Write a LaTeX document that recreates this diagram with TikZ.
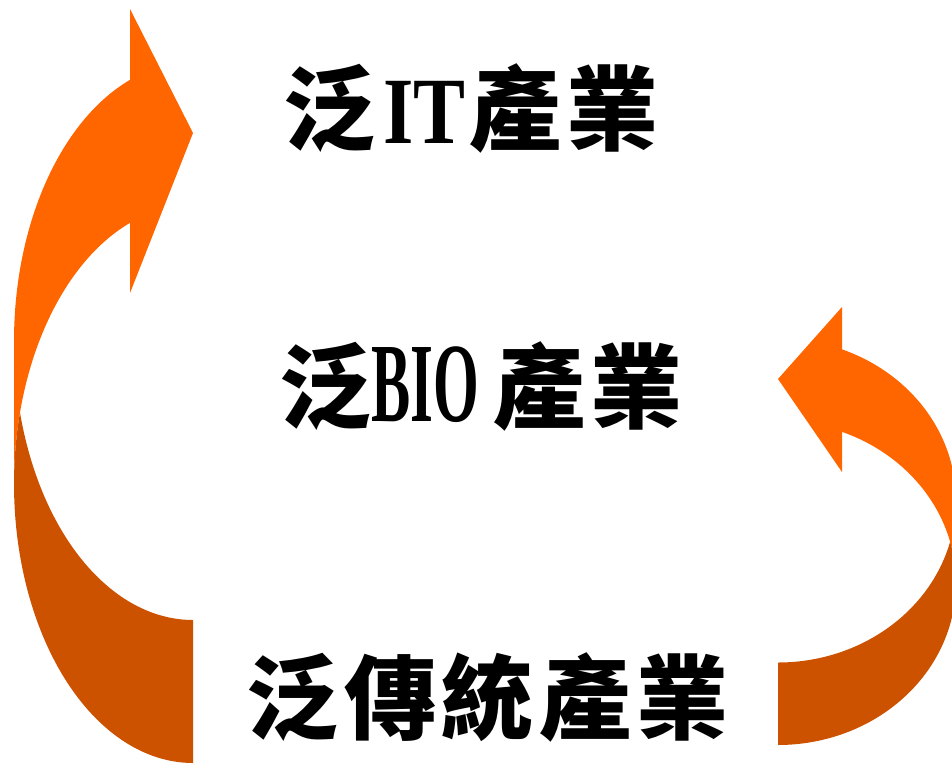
\documentclass[tikz,border=0pt]{standalone}
\usepackage{fontspec}
\newfontfamily\cjk[LetterSpace=6]{Noto Sans CJK TC}
\newfontfamily\itfont[FakeStretch=0.82]{Liberation Serif}
\newfontfamily\biofont[FakeStretch=0.52]{Liberation Serif}
\definecolor{arrowlight}{RGB}{255,102,0}
\definecolor{arrowdark}{RGB}{204,82,0}
\tikzset{
  lbl/.style={inner sep=0pt, anchor=center, text=black},
  lightband/.style={fill=arrowlight},
  darkband/.style={fill=arrowdark}
}
\begin{document}
\begin{tikzpicture}[x=1pt,y=-1pt]
\useasboundingbox (0,0) rectangle (952,763);
\fill[white] (0,0) rectangle (952,763);
\clip (0,0) rectangle (952,763);
% left curved arrow (points right, at the top)
\path[lightband] (14,341) -- (14,484)
  -- plot[domain=180:110.6, samples=60] ({193+179*cos(\x)},{484-279*sin(\x)})
  -- (130,293) -- (193,133) -- (130,9) -- (130,80)
  -- plot[domain=110.6:180, samples=60] ({193+179*cos(\x)},{341-279*sin(\x)})
  -- cycle;
\path[darkband] (193,763)
  -- plot[domain=270:165.15, samples=80] ({193+179*cos(\x)},{484-279*sin(\x)})
  -- plot[domain=194.85:270, samples=80] ({193+179*cos(\x)},{341-279*sin(\x)})
  -- cycle;
% right curved arrow (points left, at the top)
\path[lightband] (956,500.5) -- (956,583)
  -- plot[domain=180:111.07, samples=60] ({778-178*cos(\x)},{583-162*sin(\x)})
  -- (842,472) -- (778,379) -- (842,307) -- (842,349.4)
  -- plot[domain=111.07:180, samples=60] ({778-178*cos(\x)},{500.5-162*sin(\x)})
  -- cycle;
\path[darkband] (778,745)
  -- plot[domain=270:165.25, samples=80] ({778-178*cos(\x)},{583-162*sin(\x)})
  -- plot[domain=194.75:270, samples=80] ({778-178*cos(\x)},{500.5-162*sin(\x)})
  -- cycle;
% labels
\node[lbl] (it) at (471,108) {\fontsize{92}{100}\selectfont{\cjk\bfseries 泛}\hspace{8pt}{\fontsize{95}{100}\selectfont\itfont\bfseries IT}\hspace{4pt}{\cjk\bfseries 產業}};
\node[lbl] (bio) at (481,386) {\fontsize{92}{100}\selectfont{\cjk\bfseries 泛}{\fontsize{113}{120}\selectfont\biofont\bfseries BIO}\hspace{14pt}{\cjk\bfseries 產業}};
\node[lbl] (trad) at (488,697) {\fontsize{92}{100}\selectfont\cjk\bfseries 泛傳統產業};
\end{tikzpicture}
\end{document}
